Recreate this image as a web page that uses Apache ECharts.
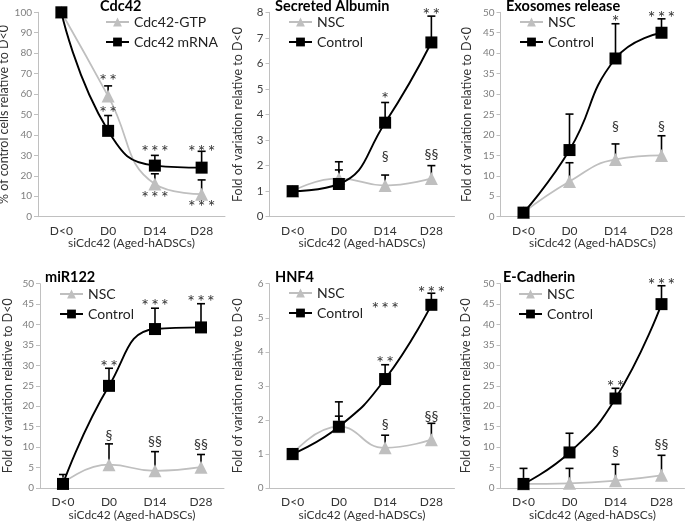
<!DOCTYPE html>
<html>
<head>
<meta charset="utf-8">
<script src="https://cdn.jsdelivr.net/npm/echarts@6/dist/echarts.min.js"></script>
<style>
  html, body { margin: 0; padding: 0; background: #fff; }
  #chart { width: 685px; height: 525px; }
</style>
</head>
<body>
<div id="chart"></div>
<script>
var days = ['D<0', 'D0', 'D14', 'D28'];
var xTitle = 'siCdc42 (Aged-hADSCs)';

// Cdc42
var cdcGtp = [100, 59, 16, 11];
var cdcGtpErr = [0, 5, 5, 7];
var cdcMrna = [100, 42, 25, 24];
var cdcMrnaErr = [0, 7.5, 5, 8];
var cdcMarks = [[1, 68.5, '**'], [1, 53, '**'], [2, 34, '***'], [2, 11.5, '***'], [3, 34, '***'], [3, 7, '***']];

// Secreted Albumin
var albNsc = [1, 1.5, 1.22, 1.5];
var albNscErr = [0, 0.65, 0.41, 0.5];
var albCtrl = [1, 1.28, 3.68, 6.82];
var albCtrlErr = [0, 0.55, 0.79, 1.03];
var albMarks = [[2, 4.8, '*'], [3, 8.1, '**'], [2, 2.35, '§'], [3, 2.42, '§§']];

// Exosomes release
var exoNsc = [1, 8.6, 14, 15];
var exoNscErr = [0, 4.6, 3.8, 4.8];
var exoCtrl = [1, 16.3, 38.7, 45];
var exoCtrlErr = [0, 8.8, 8.5, 3.4];
var exoMarks = [[2, 48.7, '*'], [3, 49.9, '***'], [2, 22, '§'], [3, 22, '§']];

// miR122
var mirNsc = [1.2, 5.7, 4.2, 5.1];
var mirNscErr = [0, 5.1, 4.7, 3.1];
var mirCtrl = [1, 25, 38.9, 39.3];
var mirCtrlErr = [2.3, 4.3, 5.1, 5.8];
var mirMarks = [[1, 30.8, '**'], [2, 45.6, '***'], [3, 46.6, '***'], [1, 12.9, '§'], [2, 11.3, '§§'], [3, 10.6, '§§']];

// HNF4
var hnfNsc = [1, 1.8, 1.18, 1.42];
var hnfNscErr = [0, 0.31, 0.37, 0.48];
var hnfCtrl = [1, 1.8, 3.2, 5.38];
var hnfCtrlErr = [0, 0.73, 0.42, 0.34];
var hnfMarks = [[2, 3.8, '**'], [3, 5.87, '***'], [2, 5.41, '***'], [2, 1.87, '§'], [3, 2.1, '§§']];

// E-Cadherin
var ecaNsc = [1, 1.15, 1.8, 3.1];
var ecaNscErr = [0, 3.65, 4.0, 4.9];
var ecaCtrl = [1, 8.7, 21.9, 45];
var ecaCtrlErr = [3.8, 4.7, 2.5, 4.5];
var ecaMarks = [[2, 25.9, '**'], [3, 50.8, '***'], [2, 9.0, '§'], [3, 10.6, '§§']];

var FONT = 'Lato, "Open Sans", sans-serif';
var foldName = 'Fold of variation relative to D<0';

var panels = [
  { title: 'Cdc42', names: ['Cdc42-GTP', 'Cdc42 mRNA'], gray: cdcGtp, grayErr: cdcGtpErr, black: cdcMrna, blackErr: cdcMrnaErr,
    marks: cdcMarks, yMax: 100, yStep: 10, yName: '% of control cells relative to D<0', nameGap: 25, labelColor: '#808080', labelSize: 10,
    grid: { left: 38, top: 12.3, width: 187, height: 204.4 }, legend: [105, 15], titlePos: [100, -1] },
  { title: 'Secreted Albumin', names: ['NSC', 'Control'], gray: albNsc, grayErr: albNscErr, black: albCtrl, blackErr: albCtrlErr,
    marks: albMarks, yMax: 8, yStep: 1, yName: foldName, nameGap: 25, labelColor: '#404040', labelSize: 11.5,
    grid: { left: 269.5, top: 12.3, width: 185, height: 204.4 }, legend: [288, 15], titlePos: [275, -1] },
  { title: 'Exosomes release', names: ['NSC', 'Control'], gray: exoNsc, grayErr: exoNscErr, black: exoCtrl, blackErr: exoCtrlErr,
    marks: exoMarks, yMax: 50, yStep: 5, yName: foldName, nameGap: 27, labelColor: '#808080', labelSize: 10,
    grid: { left: 500.5, top: 12.3, width: 184, height: 204.4 }, legend: [519, 15], titlePos: [506, -1] },
  { title: 'miR122', names: ['NSC', 'Control'], gray: mirNsc, grayErr: mirNscErr, black: mirCtrl, blackErr: mirCtrlErr,
    marks: mirMarks, yMax: 50, yStep: 5, yName: foldName, nameGap: 26, labelColor: '#808080', labelSize: 10,
    grid: { left: 40, top: 283.7, width: 184, height: 204.3 }, legend: [59, 287], titlePos: [45, 270] },
  { title: 'HNF4', names: ['NSC', 'Control'], gray: hnfNsc, grayErr: hnfNscErr, black: hnfCtrl, blackErr: hnfCtrlErr,
    marks: hnfMarks, yMax: 6, yStep: 1, yName: foldName, nameGap: 25, labelColor: '#808080', labelSize: 10,
    grid: { left: 269.5, top: 283.7, width: 185, height: 204.3 }, legend: [288, 286], titlePos: [275, 270] },
  { title: 'E-Cadherin', names: ['NSC', 'Control'], gray: ecaNsc, grayErr: ecaNscErr, black: ecaCtrl, blackErr: ecaCtrlErr,
    marks: ecaMarks, yMax: 50, yStep: 5, yName: foldName, nameGap: 28, labelColor: '#808080', labelSize: 10,
    grid: { left: 500.5, top: 283.7, width: 184, height: 204.3 }, legend: [518, 287], titlePos: [503, 270] }
];

function errData(vals, errs) {
  var out = [];
  for (var i = 0; i < vals.length; i++) {
    out.push([i, vals[i], vals[i] + errs[i]]);
  }
  return out;
}

function renderErr(params, api) {
  var lo = api.value(1), hi = api.value(2);
  if (hi <= lo) return null;
  var p0 = api.coord([api.value(0), lo]);
  var p1 = api.coord([api.value(0), hi]);
  var st = { stroke: '#000', lineWidth: 1.6 };
  return {
    type: 'group',
    children: [
      { type: 'line', shape: { x1: p0[0], y1: p0[1], x2: p1[0], y2: p1[1] }, style: st },
      { type: 'line', shape: { x1: p1[0] - 4, y1: p1[1], x2: p1[0] + 4, y2: p1[1] }, style: st }
    ]
  };
}

// significance marks; asterisks sit high in the em box so push them down a bit
function renderMark(params, api) {
  var txt = marksText[params.seriesIndex][params.dataIndex];
  var p = api.coord([api.value(0), api.value(1)]);
  var star = txt.indexOf('*') >= 0;
  return {
    type: 'text',
    x: p[0],
    y: p[1] + (star ? 5 : 0),
    style: {
      text: star ? txt.split('').join('\u2009') : txt,
      fill: '#333',
      font: (star ? '18px ' : '14px ') + FONT,
      align: 'center',
      verticalAlign: 'middle'
    }
  };
}

var marksText = {};
var grids = [], xAxes = [], yAxes = [], series = [], legends = [], titles = [];

panels.forEach(function (p, k) {
  grids.push({ left: p.grid.left, top: p.grid.top, width: p.grid.width, height: p.grid.height, containLabel: false, outerBoundsMode: 'none' });
  titles.push({
    text: p.title, left: p.titlePos[0], top: p.titlePos[1], padding: 0,
    textStyle: { fontFamily: FONT, fontSize: 14.5, fontWeight: 'bold', color: '#000' }
  });
  legends.push({
    data: p.names, orient: 'vertical', left: p.legend[0], top: p.legend[1],
    itemWidth: 23, itemHeight: 11, itemGap: 6, padding: 0, selectedMode: false,
    textStyle: { fontFamily: FONT, fontSize: 14, color: '#222' }
  });
  xAxes.push({
    type: 'category', gridIndex: k, data: days, boundaryGap: true,
    name: xTitle, nameLocation: 'middle', nameGap: 19,
    nameTextStyle: { fontFamily: FONT, fontSize: 12, color: '#333' },
    axisLine: { lineStyle: { color: '#c0c0c0', width: 1 } },
    axisTick: { alignWithLabel: true, length: 4, lineStyle: { color: '#c0c0c0' } },
    axisLabel: { fontFamily: FONT, fontSize: 12, color: '#333', margin: 8 },
    splitLine: { show: false }
  });
  yAxes.push({
    type: 'value', gridIndex: k, min: 0, max: p.yMax, interval: p.yStep,
    name: p.yName, nameLocation: 'middle', nameGap: p.nameGap, nameRotate: 90,
    nameTextStyle: { fontFamily: FONT, fontSize: 12.5, color: '#333' },
    axisLine: { show: true, lineStyle: { color: '#c0c0c0', width: 1 } },
    axisTick: { show: true, length: 4, lineStyle: { color: '#c0c0c0' } },
    axisLabel: { fontFamily: FONT, fontSize: p.labelSize, color: p.labelColor, margin: 6 },
    splitLine: { show: false }
  });
  series.push({
    type: 'custom', xAxisIndex: k, yAxisIndex: k, z: 1, renderItem: renderErr,
    encode: { x: 0, y: [1, 2] }, data: errData(p.gray, p.grayErr).concat(errData(p.black, p.blackErr)), silent: true
  });
  series.push({
    name: p.names[0], type: 'line', xAxisIndex: k, yAxisIndex: k, z: 3,
    data: p.gray, smooth: 0.5, symbol: 'triangle', symbolSize: 13,
    lineStyle: { color: '#bfbfbf', width: 1.75 }, itemStyle: { color: '#bfbfbf' }
  });
  series.push({
    name: p.names[1], type: 'line', xAxisIndex: k, yAxisIndex: k, z: 4,
    data: p.black, smooth: 0.5, symbol: 'rect', symbolSize: 12,
    lineStyle: { color: '#000', width: 1.9 }, itemStyle: { color: '#000' }
  });
  marksText[series.length] = p.marks.map(function (m) { return m[2]; });
  series.push({
    type: 'custom', xAxisIndex: k, yAxisIndex: k, z: 5, renderItem: renderMark, silent: true,
    encode: { x: 0, y: 1 }, data: p.marks.map(function (m) { return [m[0], m[1]]; })
  });
});

var chart = echarts.init(document.getElementById('chart'), null, { renderer: 'canvas' });
chart.setOption({
  animation: false,
  backgroundColor: '#fff',
  title: titles,
  legend: legends,
  grid: grids,
  xAxis: xAxes,
  yAxis: yAxes,
  series: series
});
</script>
</body>
</html>
